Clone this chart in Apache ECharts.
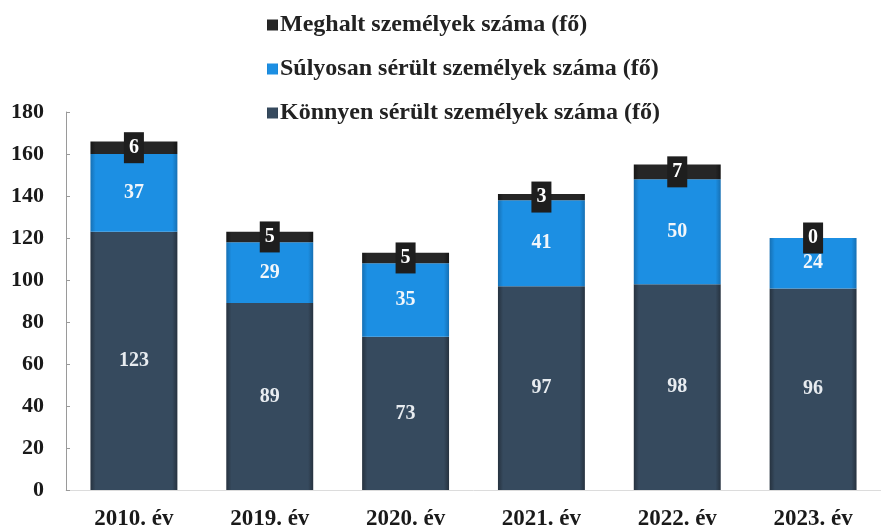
<!DOCTYPE html>
<html>
<head>
<meta charset="utf-8">
<script src="https://cdn.jsdelivr.net/npm/echarts@6/dist/echarts.min.js"></script>
<style>
  html, body { margin: 0; padding: 0; background: #fff; }
  #chart { width: 881px; height: 532px; }
</style>
</head>
<body>
<div id="chart"></div>
<script>
// Years shown on the category axis
const years = ['2010. év', '2019. év', '2020. év', '2021. év', '2022. év', '2023. év'];

// Persons injured or killed, per year
const lightlyInjured = [123, 89, 73, 97, 98, 96];
const seriouslyInjured = [37, 29, 35, 41, 50, 24];
const killed = [6, 5, 5, 3, 7, 0];

// Value axis ticks
const yMin = 0;
const yMax = 180;
const yStep = 20;

const seriesNames = [
  'Meghalt személyek száma (fő)',
  'Súlyosan sérült személyek száma (fő)',
  'Könnyen sérült személyek száma (fő)'
];

const FONT = '"Liberation Serif", "Times New Roman", serif';

function edgeGradient(edge, mid) {
  return new echarts.graphic.LinearGradient(0, 0, 1, 0, [
    { offset: 0, color: edge },
    { offset: 0.06, color: mid },
    { offset: 0.94, color: mid },
    { offset: 1, color: edge }
  ]);
}

const chart = echarts.init(document.getElementById('chart'), null, { renderer: 'canvas' });

chart.setOption({
  backgroundColor: '#ffffff',
  animation: false,
  legend: {
    orient: 'vertical',
    left: 262,
    top: 8,
    itemGap: 20,
    itemWidth: 11,
    itemHeight: 11,
    icon: 'rect',
    data: seriesNames,
    textStyle: {
      fontFamily: FONT,
      fontWeight: 'bold',
      fontSize: 24,
      color: '#222',
      padding: [0, 0, 0, -3]
    }
  },
  grid: {
    left: 66,
    width: 822,
    top: 112,
    bottom: 42,
    containLabel: false
  },
  xAxis: {
    type: 'category',
    data: years,
    axisLine: { show: true, lineStyle: { color: '#dcdcdc', width: 1 } },
    axisTick: { show: false },
    axisLabel: {
      fontFamily: FONT,
      fontWeight: 'bold',
      fontSize: 23,
      color: '#1a1a1a',
      margin: 18
    }
  },
  yAxis: {
    type: 'value',
    min: yMin,
    max: yMax,
    interval: yStep,
    splitLine: { show: false },
    axisLine: { show: true, lineStyle: { color: '#9a9a9a', width: 1 } },
    axisTick: { show: true, inside: true, length: 4, lineStyle: { color: '#9a9a9a' } },
    axisLabel: {
      fontFamily: FONT,
      fontWeight: 'bold',
      fontSize: 22,
      color: '#1a1a1a',
      margin: 22
    }
  },
  series: [
    {
      name: seriesNames[2],
      type: 'bar',
      stack: 'total',
      barWidth: '64%',
      data: lightlyInjured,
      itemStyle: {
        color: edgeGradient('#26323f', '#364a5e')
      },
      label: {
        show: true,
        position: 'inside',
        fontFamily: FONT,
        fontWeight: 'bold',
        fontSize: 20,
        color: '#e8ecf0'
      }
    },
    {
      name: seriesNames[1],
      type: 'bar',
      stack: 'total',
      data: seriouslyInjured,
      itemStyle: {
        color: edgeGradient('#1670b4', '#1c8fe3')
      },
      label: {
        show: true,
        position: 'inside',
        fontFamily: FONT,
        fontWeight: 'bold',
        fontSize: 20,
        color: '#f2f6fa'
      }
    },
    {
      name: seriesNames[0],
      type: 'bar',
      stack: 'total',
      data: killed,
      itemStyle: {
        color: edgeGradient('#161616', '#262626')
      },
      label: {
        show: true,
        position: 'inside',
        fontFamily: FONT,
        fontWeight: 'bold',
        fontSize: 20,
        color: '#ffffff',
        backgroundColor: '#1e1e1e',
        padding: [6, 5, 5, 5]
      }
    }
  ],
  color: ['#364a5e', '#1c8fe3', '#262626']
});
</script>
</body>
</html>
